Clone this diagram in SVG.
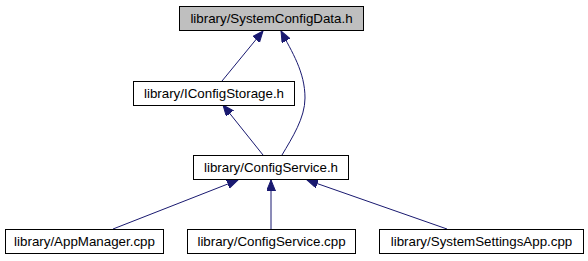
<svg xmlns="http://www.w3.org/2000/svg" width="588" height="261" viewBox="0 0 588 261">
  <style>
    .node rect { fill: #ffffff; stroke: #000000; stroke-width: 1; }
    .node.root rect { fill: #bfbfbf; }
    .node text { font-family: "Liberation Sans", Arial, sans-serif; font-size: 13.33px; fill: #000000; text-anchor: middle; }
    .edge { fill: none; stroke: #191970; stroke-width: 1; marker-end: url(#arrow); }
  </style>
  <defs>
    <marker id="arrow" markerUnits="userSpaceOnUse" markerWidth="12" markerHeight="10" refX="11" refY="4.5" orient="auto">
      <path d="M0,0 L11,4.5 L0,9 Z" fill="#191970" stroke="#191970" stroke-width="1"/>
    </marker>
  </defs>
  <rect width="588" height="261" fill="#ffffff"/>

  <g id="connectors">
    <path class="edge" d="M222,81 L263,31"/>
    <path class="edge" d="M282,155 C292,138 305,118 305,98 C305,72 292,52 281,31"/>
    <path class="edge" d="M263,155 L223,105"/>
    <path class="edge" d="M113,229 L238,180"/>
    <path class="edge" d="M271,229 L271,180"/>
    <path class="edge" d="M447,229 L307,180"/>
  </g>

  <g id="node-systemconfigdata" class="node root">
    <rect x="179.5" y="6.5" width="184" height="24"/>
    <text x="271.5" y="23">library/SystemConfigData.h</text>
  </g>
  <g id="node-iconfigstorage" class="node">
    <rect x="133.5" y="81.5" width="161" height="24"/>
    <text x="214" y="98">library/IConfigStorage.h</text>
  </g>
  <g id="node-configservice-h" class="node">
    <rect x="193.5" y="155.5" width="155" height="24"/>
    <text x="271" y="172">library/ConfigService.h</text>
  </g>
  <g id="node-appmanager" class="node">
    <rect x="5.5" y="229.5" width="158" height="24"/>
    <text x="84.5" y="246">library/AppManager.cpp</text>
  </g>
  <g id="node-configservice-cpp" class="node">
    <rect x="187.5" y="229.5" width="168" height="24"/>
    <text x="271.5" y="246">library/ConfigService.cpp</text>
  </g>
  <g id="node-systemsettingsapp" class="node">
    <rect x="379.5" y="229.5" width="204" height="24"/>
    <text x="481.5" y="246">library/SystemSettingsApp.cpp</text>
  </g>
</svg>
